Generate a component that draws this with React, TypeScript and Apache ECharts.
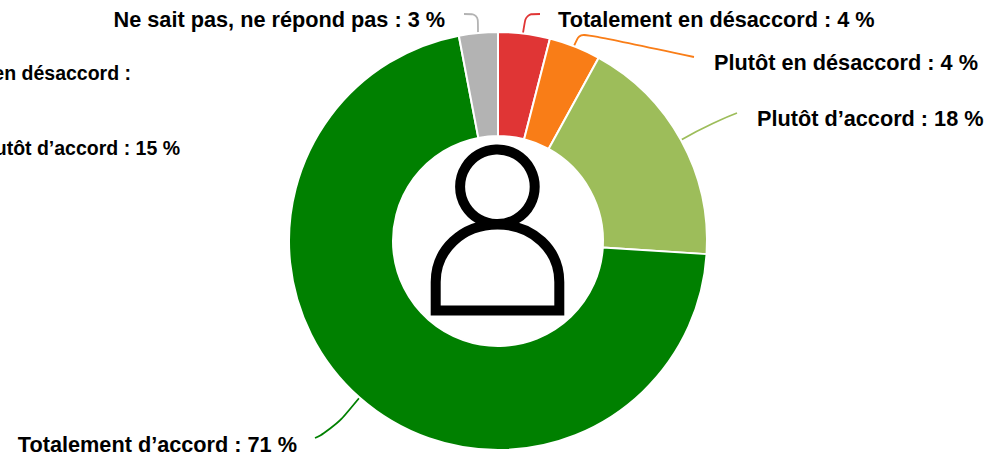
import React, { useEffect, useRef } from "react";
import * as echarts from "echarts";

const categories = [
  "Totalement en désaccord",
  "Plutôt en désaccord",
  "Plutôt d’accord",
  "Totalement d’accord",
  "Ne sait pas, ne répond pas",
];
const values = [4, 4, 18, 71, 3];
const colors = ["#e03535", "#f97d17", "#9dbd5a", "#008000", "#b3b3b3"];
const strayLabels = ["Plutôt en désaccord :", "Plutôt d’accord : 15 %"];

const labelPlaces: { x: number; y: number; align: string }[] = [
  { x: 558, y: 19.5, align: "left" },
  { x: 714, y: 62.5, align: "left" },
  { x: 757, y: 118.5, align: "left" },
  { x: 297, y: 444, align: "right" },
  { x: 445, y: 19.5, align: "right" },
];
const linePoints: number[][][] = [
  [[523, 33], [526, 14], [540, 14]],
  [[574, 46], [580, 33], [694, 57]],
  [[681, 140], [712, 122], [737, 113]],
  [[360, 397], [332, 431], [315, 438]],
  [[478, 33], [478, 14], [464, 14]],
];
const lineSmooth = [0.3, 0.3, 0.7, 0.7, 0.3];

const personBody =
  "M435.7 310.5 V282 C435.7 250 462 224.5 497.5 224.5 C533 224.5 559.3 250 559.3 282 V310.5 Z";
echarts.graphic.registerShape("personBody", echarts.graphic.extendPath(personBody as any, {}) as any);

const textStyle = {
  fontFamily: "Liberation Sans",
  fontWeight: "bold",
  fill: "#000000",
};

export default function App() {
  const ref = useRef<HTMLDivElement>(null);
  useEffect(() => {
    document.body.style.margin = "0";
    const chart = echarts.init(ref.current!, null, { renderer: "svg" });
    chart.setOption({
      animation: false,
      backgroundColor: "#ffffff",
      series: [
        {
          type: "pie",
          center: [498, 241],
          radius: [105, 209],
          startAngle: 90,
          clockwise: true,
          avoidLabelOverlap: false,
          itemStyle: { borderColor: "#ffffff", borderWidth: 2 },
          data: categories.map((name, i) => ({
            name,
            value: values[i],
            itemStyle: { color: colors[i] },
            labelLine: { smooth: lineSmooth[i], lineStyle: { color: colors[i], width: 1.8 } },
          })),
          label: {
            show: true,
            position: "outside",
            formatter: (p: any) => `${p.name} : ${p.value} %`,
            fontFamily: "Liberation Sans",
            fontWeight: "bold",
            fontSize: 21.7,
            color: "#000000",
          },
          labelLine: { show: true },
          labelLayout: (p: any) => ({
            x: labelPlaces[p.dataIndex].x,
            y: labelPlaces[p.dataIndex].y,
            align: labelPlaces[p.dataIndex].align,
            verticalAlign: "middle",
            hideOverlap: false,
            moveOverlap: false,
            labelLinePoints: linePoints[p.dataIndex],
          }),
        },
      ],
      graphic: [
        {
          type: "text",
          x: 131,
          y: 73,
          style: { ...textStyle, text: strayLabels[0], align: "right", verticalAlign: "middle", fontSize: 19.5 },
        },
        {
          type: "text",
          x: 180,
          y: 148,
          style: { ...textStyle, text: strayLabels[1], align: "right", verticalAlign: "middle", fontSize: 19.5 },
        },
        {
          type: "circle",
          shape: { cx: 497.4, cy: 186.7, r: 37.3 },
          style: { fill: "none", stroke: "#000000", lineWidth: 10 },
          z: 10,
        },
        {
          type: "personBody",
          style: { fill: "none", stroke: "#000000", lineWidth: 10 },
          z: 10,
        },
      ],
    });
    return () => chart.dispose();
  }, []);
  return <div ref={ref} style={{ width: 1000, height: 455, position: "fixed", left: 0, top: 0 }} />;
}
